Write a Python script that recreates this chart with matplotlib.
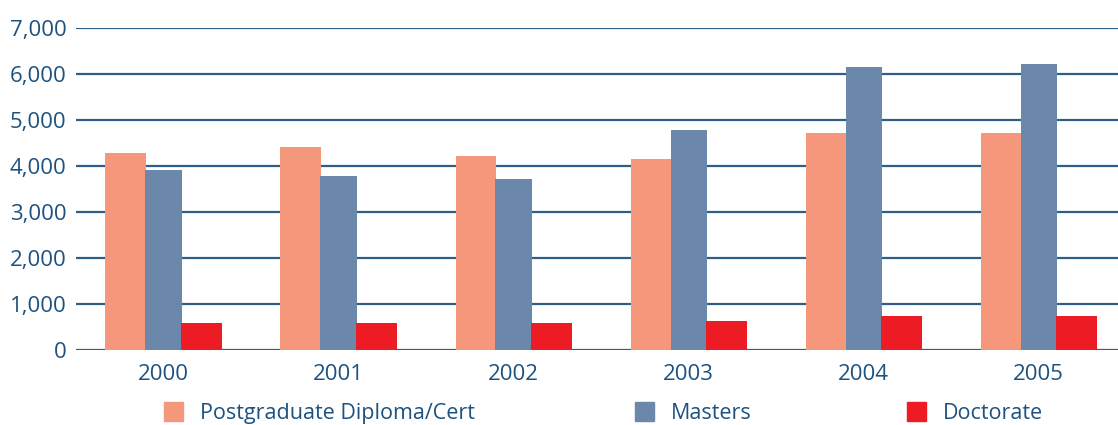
import matplotlib
matplotlib.use("Agg")
import matplotlib.pyplot as plt
from matplotlib.patches import Rectangle
from matplotlib.ticker import FuncFormatter
import numpy as np

years = ["2000", "2001", "2002", "2003", "2004", "2005"]
series_names = ["Postgraduate Diploma/Cert", "Masters", "Doctorate"]
postgrad = [4280, 4410, 4220, 4150, 4720, 4720]
masters = [3910, 3790, 3720, 4780, 6150, 6220]
doctorate = [580, 580, 580, 620, 750, 750]

colors = ["#F4977A", "#6B87AA", "#ED1C24"]
navy = "#1D5280"
grid_c = "#2E5E88"

plt.rcParams["font.family"] = ["Open Sans", "DejaVu Sans"]

W, H = 1118, 425
fig = plt.figure(figsize=(W / 100, H / 100), dpi=100)
ax = fig.add_axes([76 / W, (H - 350) / H, 1 - 76 / W, (350 - 28) / H])

x = np.arange(len(years))
offsets = [-0.217, 0.0, 0.217]
widths = [0.229, 0.206, 0.229]
for vals, off, w, c in zip([postgrad, masters, doctorate], offsets, widths, colors):
    ax.bar(x + off, vals, width=w, color=c, zorder=3, linewidth=0)

ax.set_ylim(0, 7000)
ax.set_xlim(-0.5, 5.454)
ax.set_yticks(range(0, 7001, 1000))
ax.yaxis.set_major_formatter(FuncFormatter(lambda v, p: f"{int(v):,}"))
ax.set_xticks(x)
ax.set_xticklabels(years)
ax.grid(axis="y", color=grid_c, linewidth=1.6, zorder=1)
ax.set_axisbelow(True)
for s in ax.spines.values():
    s.set_visible(False)
ax.tick_params(axis="both", length=0, labelsize=16, labelcolor=navy)
ax.tick_params(axis="y", pad=7)
ax.tick_params(axis="x", pad=10)

# legend drawn manually in figure pixels
leg_x = [164, 635, 907]
for name, lx, c in zip(series_names, leg_x, colors):
    fig.patches.append(Rectangle((lx / W, (H - 421) / H), 19 / W, 19 / H,
                                 transform=fig.transFigure, color=c, zorder=5))
    fig.text((lx + 36) / W, (H - 419) / H, name, fontsize=15.5, color=navy,
             ha="left", va="baseline")

fig.savefig("out.png", dpi=100)
